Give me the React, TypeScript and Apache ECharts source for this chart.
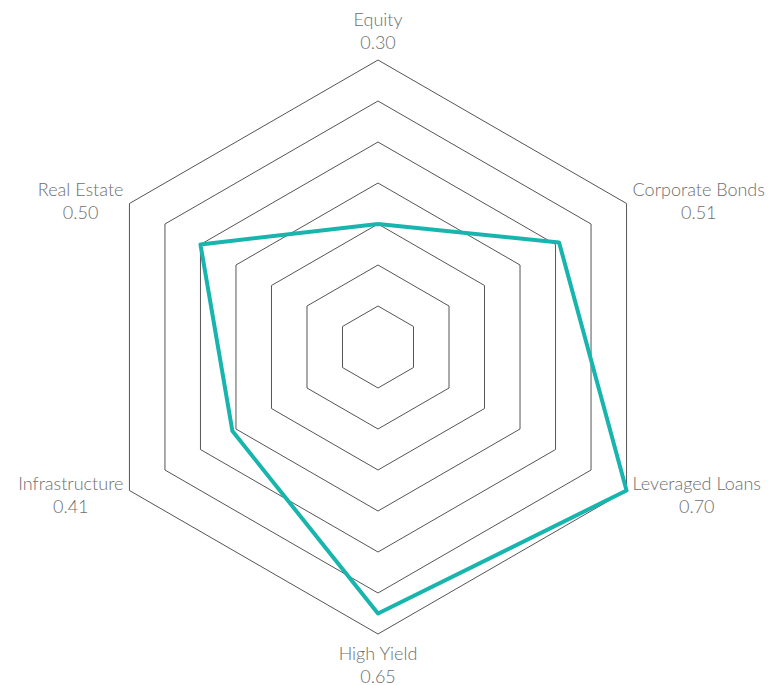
import React, { useEffect, useRef } from "react";
import * as echarts from "echarts";

// Asset classes in radar order (ECharts places indicators counter-clockwise from the top)
const assetClasses = [
  "Equity",
  "Real Estate",
  "Infrastructure",
  "High Yield",
  "Leveraged Loans",
  "Corporate Bonds",
];

// Score for each asset class, same order as above
const scores = [0.3, 0.5, 0.41, 0.65, 0.7, 0.51];

// Shared scale of the radar rings
const scaleMax = 0.7;
const ringCount = 7;

export default function App() {
  const ref = useRef<HTMLDivElement>(null);

  useEffect(() => {
    if (!ref.current) return;
    const chart = echarts.init(ref.current, null, { renderer: "svg" });

    const valueByName: Record<string, number> = {};
    assetClasses.forEach((n, i) => (valueByName[n] = scores[i]));

    const textStyle = {
      fontFamily: "Lato",
      fontWeight: 300,
      fontSize: 18,
      color: "#6e6e6e",
      lineHeight: 23,
      align: "center",
    };

    chart.setOption({
      animation: false,
      backgroundColor: "#ffffff",
      radar: {
        center: [378, 347],
        radius: 287,
        startAngle: 90,
        splitNumber: ringCount,
        shape: "polygon",
        nameGap: 7,
        indicator: assetClasses.map((name) => ({ name, min: 0, max: scaleMax })),
        axisName: {
          formatter: (name: string) =>
            `{n|${name}}\n{v|${valueByName[name].toFixed(2)}}`,
          rich: { n: textStyle, v: textStyle },
        },
        splitLine: { lineStyle: { color: "#555555", width: 1 } },
        splitArea: { show: false },
        axisLine: { show: false },
        axisTick: { show: false },
        axisLabel: { show: false },
      },
      series: [
        {
          type: "radar",
          symbol: "none",
          lineStyle: { color: "#17b5ae", width: 4 },
          data: [{ value: scores, name: "Score" }],
        },
      ],
    });

    return () => chart.dispose();
  }, []);

  return (
    <div
      ref={ref}
      style={{ position: "fixed", left: 0, top: 0, width: 769, height: 685 }}
    />
  );
}
